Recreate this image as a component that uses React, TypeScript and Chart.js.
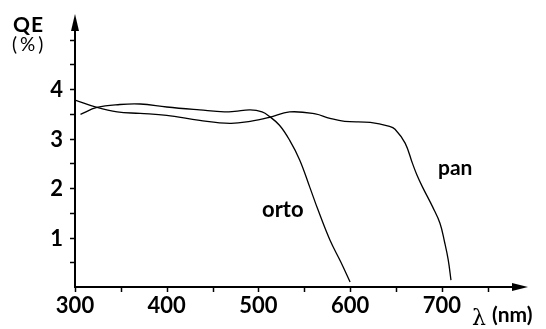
import React, { useEffect, useRef } from "react";
import { Chart, registerables } from "chart.js";

Chart.register(...registerables);

// Orthochromatic emulsion: wavelength (nm) and quantum efficiency (%)
const ortoNm = [306, 324, 349, 371, 400, 436, 463, 474, 491, 504, 512, 523, 534, 545, 556, 565, 578, 590, 600];
const ortoQE = [3.49, 3.63, 3.69, 3.70, 3.64, 3.58, 3.54, 3.55, 3.58, 3.54, 3.45, 3.27, 2.97, 2.57, 2.02, 1.56, 0.95, 0.5, 0.1];

// Panchromatic emulsion
const panNm = [300, 324, 346, 371, 400, 436, 469, 491, 512, 534, 562, 578, 594, 622, 643, 649, 660, 668, 673, 679, 690, 698, 703, 707, 710];
const panQE = [3.78, 3.63, 3.54, 3.51, 3.47, 3.37, 3.31, 3.35, 3.43, 3.54, 3.50, 3.41, 3.35, 3.33, 3.25, 3.19, 2.91, 2.50, 2.26, 2.02, 1.62, 1.29, 0.91, 0.55, 0.14];

const xTickValues = [300, 350, 400, 450, 500, 550, 600, 650, 700, 750];
const xLabelValues = [300, 400, 500, 600, 700];
const yTickValues = [0.5, 1, 1.5, 2, 2.5, 3, 3.5, 4, 4.5, 5];
const yLabelValues = [1, 2, 3, 4];

const X_MIN = 300;
const X_MAX = 794;
const Y_MIN = 0;
const Y_MAX = 5.5;

const FONT = "Lato, 'Liberation Sans', sans-serif";

const axesPlugin = {
  id: "customAxes",
  afterDatasetsDraw(chart: any) {
    const { ctx, chartArea, scales } = chart;
    const { top, right } = chartArea;
    const x = scales.x;
    const y = scales.y;
    const x0 = x.getPixelForValue(X_MIN);
    const y0 = y.getPixelForValue(Y_MIN);
    ctx.save();
    ctx.strokeStyle = "#000";
    ctx.fillStyle = "#000";

    // axes lines
    ctx.lineWidth = 2;
    ctx.beginPath();
    ctx.moveTo(x0, y0 + 1);
    ctx.lineTo(x0, top + 12);
    ctx.stroke();
    ctx.beginPath();
    ctx.moveTo(x0 - 1, y0);
    ctx.lineTo(right - 12, y0);
    ctx.stroke();

    // arrow heads
    ctx.beginPath();
    ctx.moveTo(x0, top - 1);
    ctx.lineTo(x0 - 4, top + 16);
    ctx.lineTo(x0 + 4, top + 16);
    ctx.closePath();
    ctx.fill();
    ctx.beginPath();
    ctx.moveTo(right, y0);
    ctx.lineTo(right - 16, y0 - 4);
    ctx.lineTo(right - 16, y0 + 4);
    ctx.closePath();
    ctx.fill();

    // ticks
    ctx.lineWidth = 1.5;
    yTickValues.forEach((v) => {
      const py = Math.round(y.getPixelForValue(v)) + 0.5;
      ctx.beginPath();
      ctx.moveTo(x0 - 5, py);
      ctx.lineTo(x0, py);
      ctx.stroke();
    });
    xTickValues.forEach((v) => {
      const px = Math.round(x.getPixelForValue(v)) + 0.5;
      ctx.beginPath();
      ctx.moveTo(px, y0);
      ctx.lineTo(px, y0 + 5);
      ctx.stroke();
    });

    // tick labels
    ctx.font = `bold 22px ${FONT}`;
    ctx.textAlign = "right";
    ctx.textBaseline = "middle";
    yLabelValues.forEach((v) => {
      ctx.fillText(String(v), x0 - 12, y.getPixelForValue(v) + 1);
    });
    ctx.textAlign = "center";
    ctx.textBaseline = "alphabetic";
    xLabelValues.forEach((v) => {
      ctx.fillText(String(v), x.getPixelForValue(v), 313);
    });

    // axis titles
    ctx.textAlign = "left";
    ctx.font = `bold 21px ${FONT}`;
    (ctx as any).letterSpacing = "1px";
    ctx.fillText("QE", 13, 32);
    ctx.font = `19px ${FONT}`;
    (ctx as any).letterSpacing = "3px";
    ctx.fillText("(%)", 12, 51);
    (ctx as any).letterSpacing = "0px";
    ctx.font = `22px 'DejaVu Serif', serif`;
    ctx.fillText("λ", 472, 325);
    ctx.font = `bold 21px ${FONT}`;
    ctx.fillText("(nm)", 492, 322);

    // series labels
    ctx.font = `bold 22px ${FONT}`;
    ctx.fillText("orto", 262, 217);
    ctx.font = `bold 21px ${FONT}`;
    ctx.fillText("pan", 438, 175);
    ctx.restore();
  },
};

export default function App() {
  const canvasRef = useRef<HTMLCanvasElement | null>(null);

  useEffect(() => {
    if (!canvasRef.current) return;
    const chart = new Chart(canvasRef.current, {
      type: "line",
      data: {
        datasets: [
          {
            label: "orto",
            data: ortoNm.map((v, i) => ({ x: v, y: ortoQE[i] })),
            borderColor: "#000",
            borderWidth: 1.3,
            pointRadius: 0,
            tension: 0.4,
            fill: false,
          },
          {
            label: "pan",
            data: panNm.map((v, i) => ({ x: v, y: panQE[i] })),
            borderColor: "#000",
            borderWidth: 1.3,
            pointRadius: 0,
            tension: 0.4,
            fill: false,
          },
        ],
      },
      options: {
        animation: false,
        responsive: false,
        maintainAspectRatio: false,
        layout: { padding: { left: 75, right: 18, top: 15, bottom: 42 } },
        plugins: { legend: { display: false }, tooltip: { enabled: false } },
        scales: {
          x: { type: "linear", min: X_MIN, max: X_MAX, display: false },
          y: { type: "linear", min: Y_MIN, max: Y_MAX, display: false },
        },
      },
      plugins: [axesPlugin],
    });
    if ((document as any).fonts && (document as any).fonts.ready) {
      (document as any).fonts.ready.then(() => chart.update());
    }
    return () => chart.destroy();
  }, []);

  return (
    <div style={{ position: "fixed", left: 0, top: 0, width: 546, height: 329, background: "#fff" }}>
      <canvas ref={canvasRef} width={546} height={329} style={{ display: "block" }} />
    </div>
  );
}
